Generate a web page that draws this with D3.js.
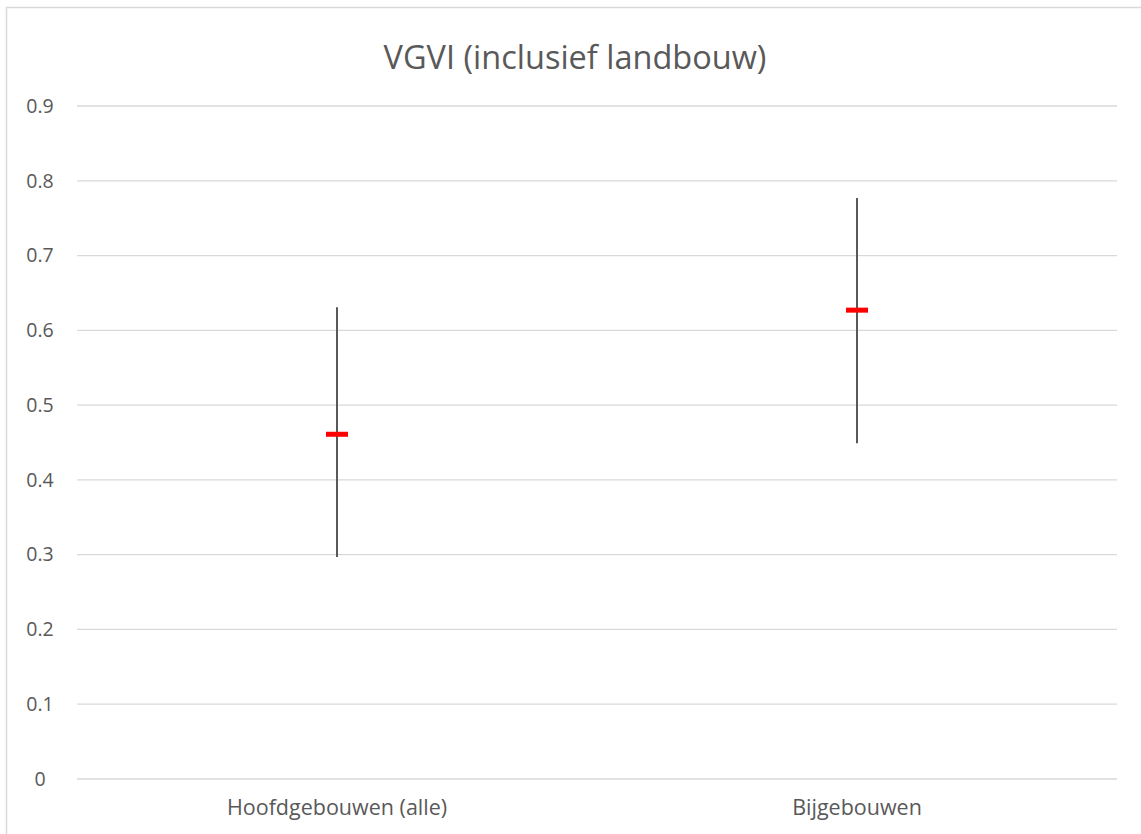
<!DOCTYPE html>
<html>
<head>
<meta charset="utf-8">
<script src="https://cdn.jsdelivr.net/npm/d3@7"></script>
<style>
  body { margin: 0; background: #fff; }
  text { font-family: "Open Sans", sans-serif; fill: #595959; }
</style>
</head>
<body>
<div class="chart"></div>
<script>
const categories = ['Hoofdgebouwen (alle)', 'Bijgebouwen'];
const highValues = [0.631, 0.777];
const lowValues = [0.297, 0.449];
const meanValues = [0.461, 0.627];
const yTicks = [0, 0.1, 0.2, 0.3, 0.4, 0.5, 0.6, 0.7, 0.8, 0.9];

const data = categories.map((c, i) => ({
  cat: c, high: highValues[i], low: lowValues[i], mean: meanValues[i]
}));

const width = 1141, height = 834;
const margin = ({top: 106, right: 24, bottom: 55, left: 77});

const svg = d3.select('.chart').append('svg')
  .attr('width', width)
  .attr('height', height);

// chart border
svg.append('rect')
  .attr('x', 6.5).attr('y', 7.5)
  .attr('width', 1200).attr('height', 900)
  .attr('fill', 'none')
  .attr('stroke', '#d9d9d9')
  .attr('stroke-width', 1.5);

const xScale = d3.scaleBand()
  .domain(categories)
  .range([margin.left, width - margin.right]);

const yScale = d3.scaleLinear()
  .domain([0, 0.9])
  .range([height - margin.bottom, margin.top]);

// gridlines
svg.append('g')
  .selectAll('line')
  .data(yTicks)
  .enter()
  .append('line')
    .attr('x1', margin.left)
    .attr('x2', width - margin.right)
    .attr('y1', d => yScale(d))
    .attr('y2', d => yScale(d))
    .attr('stroke', '#d9d9d9')
    .attr('stroke-width', 1.3);

// y tick labels
svg.append('g')
  .selectAll('text')
  .data(yTicks)
  .enter()
  .append('text')
    .attr('x', 40)
    .attr('y', d => yScale(d))
    .attr('dy', '0.35em')
    .attr('text-anchor', 'middle')
    .style('font-size', '19.5px')
    .text(d => d3.format('')(d));

// x labels
svg.append('g')
  .selectAll('text')
  .data(categories)
  .enter()
  .append('text')
    .attr('x', d => xScale(d) + xScale.bandwidth() / 2)
    .attr('y', 815)
    .attr('text-anchor', 'middle')
    .style('font-size', '21.5px')
    .text(d => d);

// high-low lines
svg.append('g')
  .selectAll('line')
  .data(data)
  .enter()
  .append('line')
    .attr('x1', d => xScale(d.cat) + xScale.bandwidth() / 2)
    .attr('x2', d => xScale(d.cat) + xScale.bandwidth() / 2)
    .attr('y1', d => yScale(d.high))
    .attr('y2', d => yScale(d.low))
    .attr('stroke', '#595959')
    .attr('stroke-width', 2);

// mean markers
svg.append('g')
  .selectAll('rect')
  .data(data)
  .enter()
  .append('rect')
    .attr('x', d => xScale(d.cat) + xScale.bandwidth() / 2 - 11)
    .attr('y', d => yScale(d.mean) - 2.5)
    .attr('width', 22)
    .attr('height', 5)
    .attr('fill', '#ff0000');

// title
svg.append('text')
  .attr('x', 575)
  .attr('y', 69)
  .attr('text-anchor', 'middle')
  .style('font-size', '32.5px')
  .text('VGVI (inclusief landbouw)');
</script>
</body>
</html>
